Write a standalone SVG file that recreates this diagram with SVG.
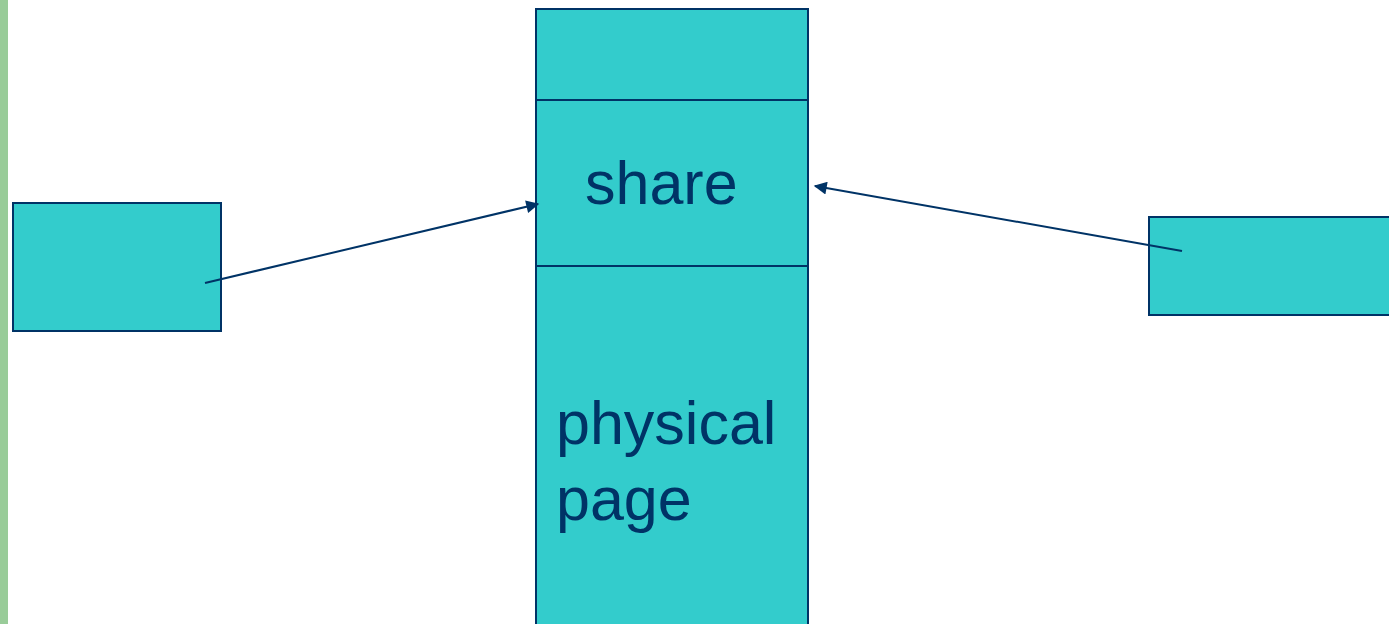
<svg xmlns="http://www.w3.org/2000/svg" width="1389" height="624" viewBox="0 0 1389 624">
  <defs>
    <style>
      .box { fill: #33CCCC; stroke: #003366; stroke-width: 2; }
      .sep { stroke: #003366; stroke-width: 2; }
      .link { stroke: #003366; stroke-width: 2; fill: none; marker-end: url(#arrow); }
      .label { font-family: "Liberation Sans", Arial, sans-serif; font-size: 61px; fill: #003366; }
    </style>
    <marker id="arrow" viewBox="0 0 10 10" refX="9" refY="5" markerWidth="8" markerHeight="6.5" orient="auto" markerUnits="strokeWidth">
      <path d="M0,0 L10,5 L0,10 z" fill="#003366"/>
    </marker>
  </defs>

  <!-- left accent strip -->
  <rect x="0" y="0" width="8" height="624" fill="#99CC99"/>

  <!-- shared memory column: header, shared slot, physical page -->
  <g id="memory">
    <rect class="box" x="536" y="9" width="272" height="630"/>
    <line class="sep" x1="536" y1="100" x2="808" y2="100"/>
    <line class="sep" x1="536" y1="266" x2="808" y2="266"/>
    <text class="label" x="585" y="204">share</text>
    <text class="label" x="556" y="444">physical</text>
    <text class="label" x="556" y="520">page</text>
  </g>

  <g id="left-box">
    <rect class="box" x="13" y="203" width="208" height="128"/>
  </g>

  <g id="right-box">
    <rect class="box" x="1149" y="217" width="250" height="98"/>
  </g>

  <g id="connectors">
    <line class="link" x1="205" y1="283" x2="538" y2="204"/>
    <line class="link" x1="1182" y1="251" x2="815" y2="186"/>
  </g>
</svg>
